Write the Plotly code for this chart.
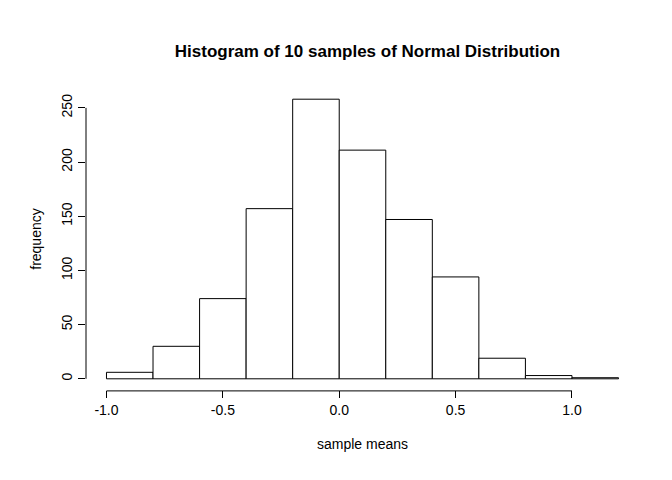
import plotly.graph_objects as go

bin_starts = [-1.0, -0.8, -0.6, -0.4, -0.2, 0.0, 0.2, 0.4, 0.6, 0.8, 1.0]
counts = [6, 30, 74, 157, 258, 211, 147, 94, 19, 3, 1]
bin_width = 0.2
x_ticks = [-1.0, -0.5, 0.0, 0.5, 1.0]
x_labels = ["-1.0", "-0.5", "0.0", "0.5", "1.0"]
y_ticks = [0, 50, 100, 150, 200, 250]

font = "Liberation Sans, Arial, sans-serif"
fig = go.Figure(go.Bar(
    x=[s + bin_width / 2 for s in bin_starts], y=counts, width=bin_width,
    marker=dict(color="white", line=dict(color="black", width=1)),
))
fig.update_layout(
    width=672, height=480, margin=dict(l=78, r=41, t=80, b=98),
    plot_bgcolor="white", paper_bgcolor="white", showlegend=False,
    font=dict(family=font, size=13, color="black"),
    title=dict(text="<b>Histogram of 10 samples of Normal Distribution</b>",
               x=0.535, xanchor="center", y=0.91, yanchor="middle", font=dict(size=17)),
    xaxis=dict(range=[-1.088, 1.288], tickvals=x_ticks, ticktext=x_labels,
               ticks="outside", ticklen=7, tickcolor="black", showgrid=False,
               zeroline=False, showline=False, automargin=False,
               tickfont=dict(size=14),
               title=dict(text="sample means", standoff=22, font=dict(size=14))),
    yaxis=dict(range=[-10.32, 268.32], tickvals=y_ticks, tickangle=-90,
               ticks="outside", ticklen=7, tickcolor="black", showgrid=False,
               zeroline=False, showline=False, automargin=False,
               tickfont=dict(size=14),
               title=dict(text="frequency", standoff=14, font=dict(size=14))),
)
fig.add_shape(type="line", xref="x", yref="paper", x0=x_ticks[0], x1=x_ticks[-1],
              y0=-0.003, y1=-0.003, line=dict(color="black", width=1))
fig.add_shape(type="line", xref="paper", yref="y", x0=0, x1=0,
              y0=y_ticks[0], y1=y_ticks[-1], line=dict(color="black", width=1))
fig.write_html("out.html")
